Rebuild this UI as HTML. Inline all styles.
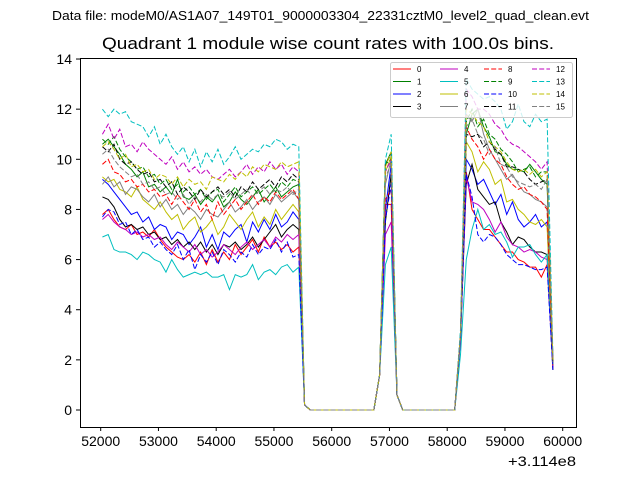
<!DOCTYPE html>
<html><head><meta charset="utf-8"><style>
body{margin:0;background:#fff;}
svg{display:block;font-family:"Liberation Sans","DejaVu Sans",sans-serif;}
</style></head><body>
<svg id="chart" width="640" height="480" viewBox="0 0 640 480">
<rect x="0" y="0" width="640" height="480" fill="#fff"/>
<text x="52" y="20" font-size="13" textLength="537" lengthAdjust="spacingAndGlyphs">Data file: modeM0/AS1A07_149T01_9000003304_22331cztM0_level2_quad_clean.evt</text>
<text x="102" y="49" font-size="16.7" textLength="452" lengthAdjust="spacingAndGlyphs">Quadrant 1 module wise count rates with 100.0s bins.</text>
<g id="plot"></g>
<rect x="80.5" y="58.5" width="496" height="369" fill="none" stroke="#000" stroke-width="1"/>
<g id="axes"></g>
<text x="508" y="466" font-size="14" textLength="68" lengthAdjust="spacingAndGlyphs">+3.114e8</text>
<g id="legend"></g>
</svg>
<script>
const startTime = 52030;
const binSize = 100;
const gapA = [0.2,0,0,0,0,0,0,0,0,0,0,0,0,1.4];
const gapB = [0.6,0,0,0,0,0,0,0,0,0,0];
const seg1 = [
[7.8,8.0,7.6,7.3,7.2,7.4,7.0,7.1,6.9,7.2,6.8,6.5,6.3,6.1,6.0,6.2,5.9,6.3,5.8,6.4,5.9,6.3,6.0,6.6,6.2,6.5,6.8,6.3,6.9,6.5,6.7,6.4,6.6,6.3,6.5],
[10.6,10.8,10.5,10.2,9.8,9.6,9.3,9.5,8.9,9.0,8.7,8.9,8.6,9.2,8.5,8.4,8.6,8.2,8.5,8.3,8.6,8.1,8.3,8.7,8.4,8.2,8.5,8.8,8.3,8.6,8.9,8.5,8.7,8.9,9.0],
[9.2,9.0,8.7,8.4,8.1,7.8,7.9,7.5,7.7,7.2,7.4,7.3,6.8,7.1,7.0,6.6,6.9,7.3,6.5,7.0,6.4,7.1,6.9,7.2,7.4,6.7,7.5,7.1,7.6,7.2,7.8,7.3,7.5,7.9,7.6],
[8.5,8.4,8.1,7.6,7.3,7.4,7.2,7.3,7.0,7.1,6.8,6.9,6.6,6.8,6.5,6.7,6.4,6.7,6.3,6.6,6.2,6.6,6.5,6.7,6.4,6.6,6.9,6.5,6.8,7.1,7.4,6.9,7.2,7.4,7.2],
[7.6,7.8,7.5,7.3,7.2,7.0,7.1,6.9,7.0,6.8,6.9,6.6,6.4,6.7,6.5,6.3,6.6,6.2,6.4,6.1,6.3,6.6,6.4,6.2,6.5,6.7,6.4,6.6,6.8,6.5,6.9,6.7,7.0,6.8,7.0],
[6.9,7.0,6.4,6.3,6.3,6.2,6.0,6.3,6.2,6.0,5.9,5.5,6.0,5.6,5.3,5.4,5.5,5.4,5.5,5.3,5.3,5.4,4.8,5.4,5.3,5.4,5.8,5.2,5.5,5.6,5.4,5.7,5.8,5.5,5.7],
[9.3,9.1,9.2,8.8,8.7,8.5,8.9,8.4,8.2,8.0,8.3,7.9,7.6,7.8,7.2,7.5,7.7,7.1,7.3,7.6,7.0,7.3,7.8,7.5,7.2,7.6,7.9,7.3,7.7,7.4,8.0,7.6,7.9,8.2,7.9],
[9.0,9.3,8.9,9.1,8.6,8.9,8.8,8.5,8.3,8.6,8.1,8.4,8.0,8.2,7.8,8.1,7.9,7.6,8.0,7.8,7.7,8.0,8.3,7.9,8.1,8.4,8.0,8.3,8.5,8.2,8.6,8.3,8.5,8.7,8.4],
[9.8,10.0,9.5,9.4,9.1,9.2,8.9,9.0,8.7,8.8,8.5,8.6,8.2,8.6,8.3,8.0,8.4,7.9,8.2,7.6,8.3,7.8,8.1,8.4,8.0,8.3,8.6,8.2,8.5,8.3,8.7,8.4,8.6,8.8,8.4],
[10.8,10.6,10.9,10.4,10.1,9.9,9.6,9.7,9.3,9.4,9.0,9.2,8.8,9.0,8.7,8.9,8.6,8.8,8.4,8.7,8.8,8.3,8.6,8.9,8.5,8.7,8.9,8.6,8.8,9.0,8.7,9.1,8.9,9.2,9.1],
[7.7,8.0,7.9,7.4,7.5,7.0,7.2,6.8,6.9,6.5,6.7,6.4,6.2,6.6,6.0,6.4,5.6,6.2,5.9,6.3,5.8,6.4,6.2,5.9,6.3,6.1,6.6,6.2,6.5,6.4,6.8,6.3,6.7,6.1,6.2],
[10.5,10.3,10.6,10.0,9.8,9.9,9.6,9.4,9.5,9.1,9.2,8.9,9.1,8.6,8.9,8.7,8.4,8.8,8.5,8.7,8.9,8.6,8.8,8.5,8.9,8.7,9.1,8.8,9.0,9.2,8.9,9.3,9.1,9.4,9.2],
[11.0,11.4,10.8,11.2,10.5,10.6,10.3,10.7,10.4,10.2,10.0,9.8,10.1,9.6,9.9,9.5,9.7,9.4,9.6,9.3,9.2,9.4,9.6,9.3,9.5,9.8,9.4,9.7,9.5,9.9,9.6,9.8,9.4,9.7,9.5],
[12.0,11.7,12.0,11.8,11.9,11.5,11.4,11.3,10.9,11.3,10.6,11.0,10.5,10.2,10.5,9.9,10.4,9.7,10.3,9.9,10.4,9.8,10.1,10.5,10.0,10.2,10.4,10.3,10.6,10.5,10.8,10.7,10.4,10.6,10.5],
[10.5,10.7,10.4,10.0,10.2,9.7,9.8,9.5,9.6,9.2,9.4,9.3,9.0,9.3,8.9,9.2,9.0,9.1,8.8,9.3,9.2,9.1,9.4,9.2,9.5,9.3,9.7,9.5,9.8,9.7,9.6,9.9,9.7,9.8,9.9],
[10.2,10.4,10.0,9.7,9.5,9.3,9.4,9.0,9.1,8.8,8.9,8.6,8.7,8.4,8.6,8.2,8.5,8.3,8.6,8.4,8.6,8.5,8.7,8.4,8.6,8.8,8.5,8.7,8.9,8.6,8.8,8.7,8.9,8.6,8.8]
];
const peak = [
[8.2,8.2],[9.8,10.3],[8.0,9.8],[7.5,9.4],[7.0,7.5],[5.8,6.5],[9.5,10.1],[9.0,10.0],
[8.4,8.8],[9.8,10.0],[7.6,9.0],[9.8,10.2],[9.5,10.0],[10.0,11.0],[9.7,10.3],[9.3,9.8]
];
const seg2 = [
[3.0,9.5,8.0,7.6,7.2,7.2,6.9,6.6,6.3,6.3,6.0,5.9,5.7,5.7,5.3,5.8,1.8],
[3.0,11.0,11.8,12.0,11.3,10.9,10.3,10.2,9.8,9.6,9.6,9.5,9.8,9.5,9.2,9.0,1.8],
[2.8,10.0,9.6,9.0,9.2,8.7,8.2,8.6,7.8,8.3,7.6,7.3,7.5,7.8,7.3,7.5,1.7],
[2.9,9.0,9.8,8.8,8.5,8.2,8.3,7.5,7.1,6.6,6.9,6.8,6.5,6.3,6.3,6.2,1.6],
[2.8,9.3,8.3,8.2,8.0,7.6,7.1,7.5,6.9,6.6,6.5,6.3,6.4,6.3,6.1,6.0,1.7],
[2.2,6.0,7.2,8.0,7.2,7.4,7.0,7.1,6.7,6.1,6.5,6.5,6.6,6.2,5.9,6.2,1.8],
[3.0,10.7,10.3,9.5,9.9,9.6,9.0,9.2,8.3,8.4,8.0,7.8,7.5,7.4,7.6,7.3,1.9],
[3.0,11.8,11.5,12.0,11.0,10.4,10.0,9.6,9.2,9.4,9.0,8.7,8.6,8.4,8.3,8.1,1.9],
[3.0,11.3,10.8,10.5,10.0,10.4,10.0,9.8,9.3,9.0,8.8,8.9,8.6,8.5,8.3,8.0,1.8],
[3.0,11.5,12.0,11.3,11.6,11.0,10.8,10.4,10.2,9.9,9.5,9.6,9.7,9.3,9.5,9.5,2.0],
[2.8,9.4,8.5,7.0,6.7,7.0,6.9,6.6,6.2,6.0,5.8,5.8,5.7,5.6,5.6,5.7,1.6],
[3.0,11.0,10.9,11.0,10.5,10.7,10.4,10.2,9.7,9.7,9.6,9.5,9.2,9.0,9.1,9.2,1.9],
[3.0,12.8,12.5,12.0,12.0,11.8,11.4,11.2,10.8,10.6,10.5,10.3,10.1,9.9,9.6,9.9,2.1],
[3.2,13.2,12.8,12.6,12.4,12.5,12.3,12.0,11.2,11.5,12.2,11.5,11.3,11.8,11.5,11.6,2.2],
[3.0,12.0,11.8,11.5,11.3,10.7,10.5,10.3,9.9,9.6,9.5,9.6,9.4,9.6,9.3,9.5,2.0],
[3.0,11.3,11.6,11.0,10.8,10.2,10.5,9.8,9.7,9.3,9.1,9.0,8.9,9.0,8.8,9.2,1.9]
];
const moduleLabels = ["0","1","2","3","4","5","6","7","8","9","10","11","12","13","14","15"];
const xTicks = [52000,53000,54000,55000,56000,57000,58000,59000,60000];
const yTicks = [0,2,4,6,8,10,12,14];

const colors = ["#ff0000","#008000","#0000ff","#000000","#bf00bf","#00bfbf","#bfbf00","#808080"];
const NS = "http://www.w3.org/2000/svg";
function xs(t){ return 100.7 + (t - 52000) * 0.05775; }
function ys(v){ return 410 - v * 25.07; }
const plot = document.getElementById('plot');
const axes = document.getElementById('axes');
const legend = document.getElementById('legend');

for (let s = 0; s < 16; s++) {
  const vals = seg1[s].concat(gapA, peak[s], gapB, seg2[s]);
  let d = "";
  vals.forEach((v, i) => {
    const t = startTime + i * binSize;
    d += (i ? "L" : "M") + xs(t).toFixed(2) + "," + ys(v).toFixed(2);
  });
  const p = document.createElementNS(NS, 'path');
  p.setAttribute('d', d);
  p.setAttribute('fill', 'none');
  p.setAttribute('stroke', colors[s % 8]);
  p.setAttribute('stroke-width', '1');
  if (s >= 8) p.setAttribute('stroke-dasharray', '5,2.2');
  
  
  plot.appendChild(p);
}

xTicks.forEach(t => {
  const x = xs(t);
  const l = document.createElementNS(NS, 'line');
  l.setAttribute('x1', x); l.setAttribute('x2', x);
  l.setAttribute('y1', 427); l.setAttribute('y2', 431);
  l.setAttribute('stroke', '#000');
  
  
  axes.appendChild(l);
  const tx = document.createElementNS(NS, 'text');
  tx.setAttribute('x', x); tx.setAttribute('y', 446);
  tx.setAttribute('font-size', '14'); tx.setAttribute('text-anchor', 'middle');
  tx.textContent = t;
  
  
  axes.appendChild(tx);
});
yTicks.forEach(v => {
  const y = ys(v);
  const l = document.createElementNS(NS, 'line');
  l.setAttribute('x1', 76); l.setAttribute('x2', 80);
  l.setAttribute('y1', y); l.setAttribute('y2', y);
  l.setAttribute('stroke', '#000');
  
  
  axes.appendChild(l);
  const tx = document.createElementNS(NS, 'text');
  tx.setAttribute('x', 72); tx.setAttribute('y', y + 5);
  tx.setAttribute('font-size', '14'); tx.setAttribute('text-anchor', 'end');
  tx.textContent = v;
  
  
  axes.appendChild(tx);
});

const box = document.createElementNS(NS, 'rect');
box.setAttribute('x', 390.5); box.setAttribute('y', 62.5);
box.setAttribute('width', 182); box.setAttribute('height', 55);
box.setAttribute('rx', 2); box.setAttribute('fill', '#fff'); box.setAttribute('fill-opacity', '0.8');
box.setAttribute('stroke', '#ccc');


legend.appendChild(box);
const colX = [393, 440, 484, 532];
const rowY = [69, 81.5, 94, 106.5];
for (let s = 0; s < 16; s++) {
  const c = Math.floor(s / 4), r = s % 4;
  const l = document.createElementNS(NS, 'line');
  l.setAttribute('x1', colX[c]); l.setAttribute('x2', colX[c] + 18);
  l.setAttribute('y1', rowY[r]); l.setAttribute('y2', rowY[r]);
  l.setAttribute('stroke', colors[s % 8]); l.setAttribute('stroke-width', '1');
  if (s >= 8) l.setAttribute('stroke-dasharray', '5,2.2');
  
  
  legend.appendChild(l);
  const tx = document.createElementNS(NS, 'text');
  tx.setAttribute('x', colX[c] + 24); tx.setAttribute('y', rowY[r] + 3);
  tx.setAttribute('font-size', '8');
  tx.textContent = moduleLabels[s];
  
  
  legend.appendChild(tx);
}
</script>
</body></html>
